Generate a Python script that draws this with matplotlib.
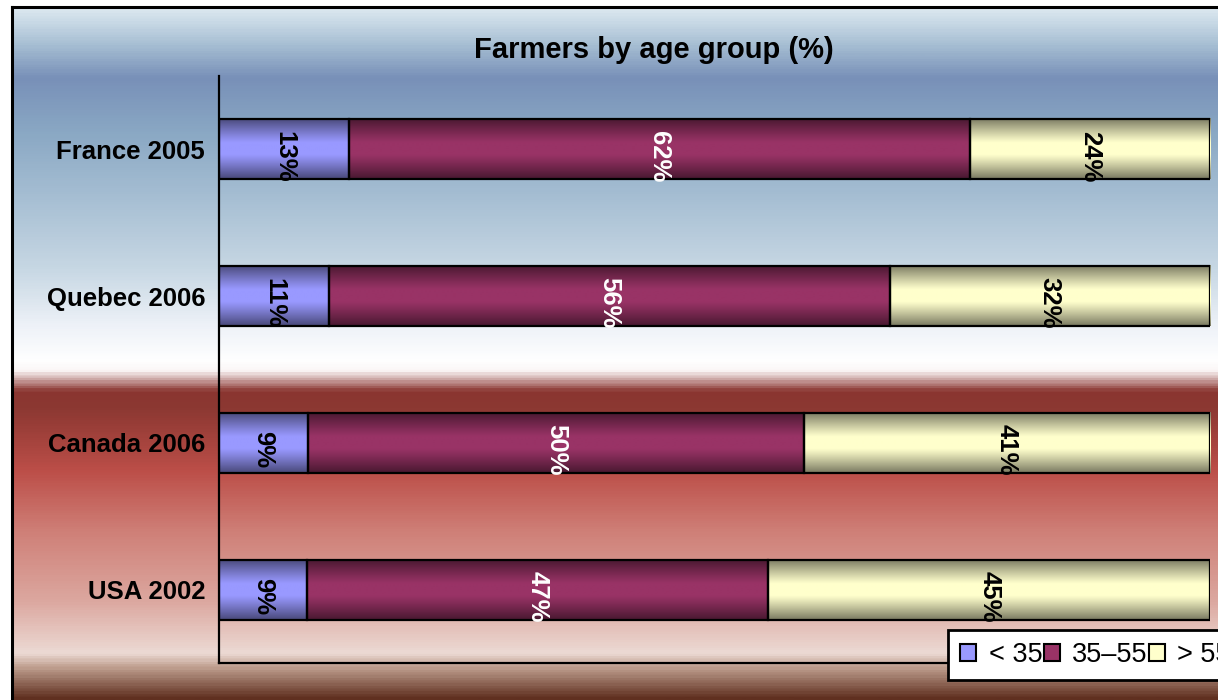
import numpy as np
import matplotlib
matplotlib.use("Agg")
import matplotlib.pyplot as plt
from matplotlib.colors import LinearSegmentedColormap, to_rgb
from matplotlib.patches import Rectangle

# data
categories = ["France 2005", "Quebec 2006", "Canada 2006", "USA 2002"]
age_groups = ["< 35", "35\u201355", "> 55"]
under_35 = [13, 11, 9, 9]
from_35_to_55 = [62, 56, 50, 47]
over_55 = [24, 32, 41, 45]
title = "Farmers by age group (%)"

series = [under_35, from_35_to_55, over_55]
colors = ["#9999ff", "#993366", "#ffffcc"]
label_colors = ["black", "white", "black"]

plt.rcParams["font.family"] = ["Liberation Sans", "DejaVu Sans"]

fig = plt.figure(figsize=(12.18, 7.0), dpi=100)

# background panel with vertical gradient
bg = fig.add_axes([12 / 1218, 0, 1 - 12 / 1218, 693 / 700], zorder=-5)
stops = [
    (0.00, "#dce8f0"), (0.05, "#a8c0d4"), (0.10, "#7890b8"),
    (0.18, "#8aa8c4"), (0.28, "#a8c0d4"), (0.38, "#c8d8e4"),
    (0.46, "#eef2f8"), (0.51, "#ffffff"), (0.525, "#fbf6f6"),
    (0.555, "#8a3530"), (0.58, "#8c3832"), (0.67, "#bc4e48"),
    (0.76, "#cf8078"), (0.86, "#dca8a0"), (0.935, "#ecdad4"),
    (0.955, "#c0a090"), (1.00, "#603020"),
]
bg_cmap = LinearSegmentedColormap.from_list("bg", stops)
bg.imshow(np.linspace(0, 1, 600).reshape(-1, 1), cmap=bg_cmap, aspect="auto",
          extent=(0, 1, 0, 1), origin="upper")
bg.set_xlim(0, 1)
bg.set_ylim(0, 1)
bg.set_xticks([])
bg.set_yticks([])
for side in ["right", "bottom"]:
    bg.spines[side].set_visible(False)
for side in ["left", "top"]:
    bg.spines[side].set_linewidth(2.2)

ax = fig.add_axes([219 / 1218, 37 / 700, 991 / 1218, 587 / 700])
ax.patch.set_alpha(0)

# bar shading profile: dark at the top and bottom edges
t = np.linspace(0, 1, 60)
d = np.abs(t - 0.5) * 2
shade = 1 - 0.52 * np.clip((d - 0.2) / 0.8, 0, 1) ** 1.1

y = np.arange(len(categories))
totals = np.sum(series, axis=0)
left = np.zeros(len(categories))
handles = []
for vals, col, lc, name in zip(series, colors, label_colors, age_groups):
    widths = np.array(vals) / totals * 100
    bars = ax.barh(y, widths, left=left, height=0.41, color=col,
                   edgecolor="none", zorder=1, label=name)
    grad = shade.reshape(-1, 1, 1) * np.array(to_rgb(col)).reshape(1, 1, 3)
    for p, v in zip(bars.patches, vals):
        x0, y0 = p.get_xy()
        w, h = p.get_width(), p.get_height()
        ax.imshow(grad, extent=(x0, x0 + w, y0 + h, y0), aspect="auto",
                  zorder=2, origin="upper", interpolation="bilinear")
        ax.add_patch(Rectangle((x0, y0), w, h, fill=False, ec="black",
                               lw=1.6, zorder=3))
        ax.annotate(f"{v}%", (x0 + w / 2, y0 + h / 2), xytext=(0, -5),
                    textcoords="offset points", rotation=270, ha="center",
                    va="center", fontsize=18.5, fontweight="bold", color=lc,
                    zorder=4)
    left += widths
    handles.append(Rectangle((0, 0), 1, 1, fc=col, ec="black", lw=1.5))

ax.set_xlim(0, 100)
ax.set_ylim(len(categories) - 0.5, -0.5)
ax.set_yticks(y)
ax.set_yticklabels(categories, fontsize=18.5, fontweight="bold")
ax.tick_params(axis="y", length=0, pad=10)
ax.set_xticks([])
for side in ["top", "right"]:
    ax.spines[side].set_visible(False)
for side in ["left", "bottom"]:
    ax.spines[side].set_linewidth(1.6)

fig.text(654 / 1218, 1 - 50 / 700, title, ha="center", va="center",
         fontsize=21, fontweight="bold")

leg = fig.legend(handles, age_groups, loc="lower left",
                 bbox_to_anchor=(948 / 1218, 20 / 700), ncol=3, fontsize=19.5,
                 frameon=True, fancybox=False, edgecolor="black",
                 handlelength=0.6, handleheight=0.6, handletextpad=0.45,
                 columnspacing=0.05, borderpad=0.45, borderaxespad=0)
leg.get_frame().set_linewidth(2)
leg.get_frame().set_facecolor("white")
leg.get_frame().set_alpha(1)

fig.savefig("out.png", dpi=100)
